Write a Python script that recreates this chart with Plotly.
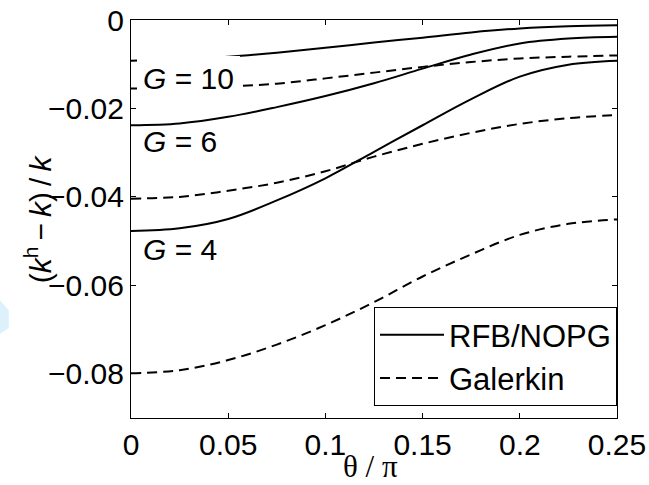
import plotly.graph_objects as go

theta = [0, 0.025, 0.05, 0.075, 0.1, 0.125, 0.15, 0.175, 0.2, 0.225, 0.25]

rfb_g4 = [-0.0477, -0.0471, -0.0450, -0.0408, -0.0358, -0.0298, -0.0238, -0.0179, -0.0128, -0.0101, -0.0092]
rfb_g6 = [-0.0238, -0.0234, -0.0219, -0.0197, -0.0172, -0.0143, -0.0110, -0.0078, -0.0053, -0.0042, -0.0038]
rfb_g10 = [-0.0092, -0.0089, -0.0083, -0.0074, -0.0063, -0.0051, -0.0040, -0.0028, -0.0019, -0.0014, -0.0012]

gal_g4 = [-0.0799, -0.0792, -0.0769, -0.0734, -0.0690, -0.0638, -0.0580, -0.0530, -0.0486, -0.0461, -0.0451]
gal_g6 = [-0.0404, -0.0400, -0.0386, -0.0368, -0.0342, -0.0309, -0.0280, -0.0255, -0.0235, -0.0222, -0.0215]
gal_g10 = [-0.0155, -0.0153, -0.0150, -0.0144, -0.0132, -0.0119, -0.0106, -0.0095, -0.0087, -0.0083, -0.0080]

series_names = ["RFB/NOPG", "Galerkin"]

x_tickvals = [0, 0.05, 0.1, 0.15, 0.2, 0.25]
x_ticktext = ["0", "0.05", "0.1", "0.15", "0.2", "0.25"]
y_tickvals = [0, -0.02, -0.04, -0.06, -0.08]
y_ticktext = ["0", "\u22120.02", "\u22120.04", "\u22120.06", "\u22120.08"]

g_labels = ["<i>G</i> = 10", "<i>G</i> = 6", "<i>G</i> = 4"]
g_label_y = [-0.0133, -0.0275, -0.0518]

# label box styles (only the G = 10 box visibly masks curves in the reference)
label_bg = ["white", "rgba(255,255,255,0)", "rgba(255,255,255,0)"]
label_pad = [6, 0, 0]

FONT = "Liberation Sans, Arial, Helvetica, sans-serif"
FS = 30

fig = go.Figure()

dash_style = "10px,6px"
for i, ys in enumerate([rfb_g10, rfb_g6, rfb_g4]):
    fig.add_trace(go.Scatter(x=theta, y=ys, mode="lines", line=dict(color="black", width=2, shape="spline"),
                             name=series_names[0], legendgroup="rfb", showlegend=(i == 0)))
for i, ys in enumerate([gal_g10, gal_g6, gal_g4]):
    fig.add_trace(go.Scatter(x=theta, y=ys, mode="lines", line=dict(color="black", width=2, dash=dash_style, shape="spline"),
                             name=series_names[1], legendgroup="gal", showlegend=(i == 0)))

for txt, yv, bg, pad in zip(g_labels, g_label_y, label_bg, label_pad):
    fig.add_annotation(x=0, y=yv, xref="x", yref="y", text=txt, showarrow=False, xanchor="left", yanchor="middle",
                       xshift=12 - pad, bgcolor=bg, borderpad=pad, borderwidth=0,
                       font=dict(family=FONT, size=FS, color="black"))

# y axis title
fig.add_annotation(x=-0.191, y=0.5, xref="paper", yref="paper", showarrow=False, textangle=-90,
                   xanchor="center", yanchor="middle",
                   text="(<i>k</i><sup>h</sup>\u2009\u2212\u2009<i>k</i>)\u2009/\u2009<i>k</i>",
                   font=dict(family=FONT, size=FS, color="black"))
# x axis title
fig.add_annotation(x=0.492, y=-0.121, xref="paper", yref="paper", showarrow=False,
                   xanchor="center", yanchor="middle", text="\u03b8 / \u03c0",
                   font=dict(family="Liberation Serif, Times New Roman, serif", size=31, color="black"))

# faint light-blue mark at the left edge
fig.add_shape(type="path", xref="paper", yref="paper",
              path="M -0.2695,0.296 L -0.2515,0.271 L -0.2515,0.226 L -0.2695,0.211 Z",
              fillcolor="#dcf1fc", line=dict(width=0), layer="below")

axis_common = dict(showline=True, linecolor="black", linewidth=1, mirror="ticks", ticks="inside", ticklen=5,
                   tickcolor="black", tickwidth=1, showgrid=False, zeroline=False, automargin=False,
                   tickfont=dict(family=FONT, size=FS, color="black"))

fig.update_xaxes(range=[0, 0.25], tickvals=x_tickvals, ticktext=x_ticktext, **axis_common)
fig.update_yaxes(range=[-0.09, 0], tickvals=y_tickvals, ticktext=y_ticktext, **axis_common)

fig.update_layout(width=649, height=485, margin=dict(l=131, r=32, t=20, b=67),
                  plot_bgcolor="white", paper_bgcolor="white",
                  font=dict(family=FONT, size=FS, color="black"),
                  legend=dict(x=1.0, xanchor="right", y=0.03, yanchor="bottom", bordercolor="black", borderwidth=1,
                              bgcolor="white", font=dict(family=FONT, size=31, color="black"), tracegroupgap=0,
                              itemwidth=64))

fig.write_html("out.html")
